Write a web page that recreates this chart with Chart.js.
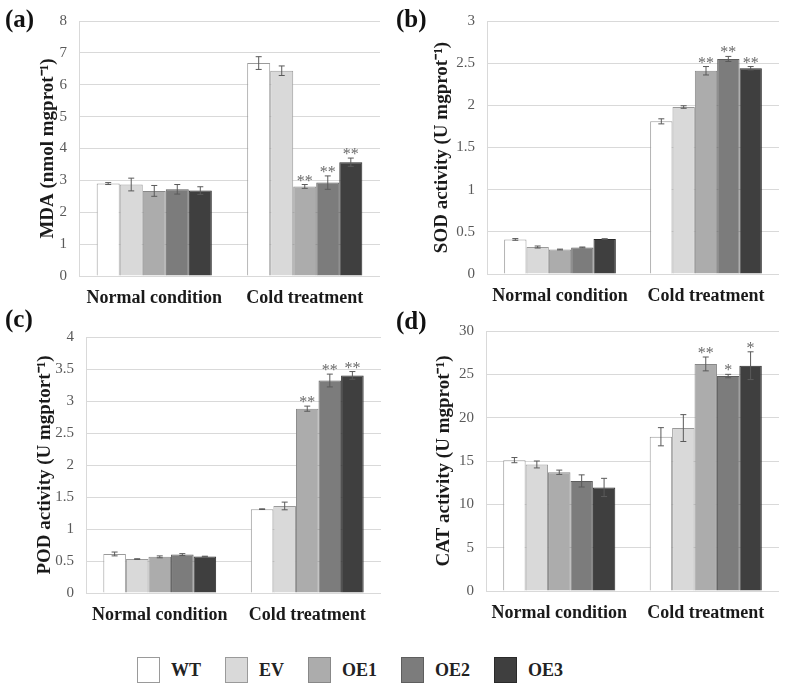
<!DOCTYPE html>
<html>
<head>
<meta charset="utf-8">
<script src="https://cdn.jsdelivr.net/npm/chart.js@4.4.1/dist/chart.umd.min.js"></script>
<style>
  body { margin: 0; background: #fff; }
  #page { position: relative; width: 787px; height: 690px; overflow: hidden; font-family: "Liberation Serif", "Times New Roman", serif; }
  canvas { position: absolute; }
  .tag { position: absolute; font-weight: bold; font-size: 25px; color: #111; line-height: 1; }
  #legend { position: absolute; left: 137px; top: 657px; display: flex; align-items: center; }
  .item { display: flex; align-items: center; margin-right: 24px; }
  .box { width: 21px; height: 24px; border: 1px solid #999; margin-right: 11px; }
  .item span { font-weight: bold; font-size: 18px; color: #222; }
</style>
</head>
<body>
<div id="page">
  <canvas id="chartA" style="left:0;top:0" width="390" height="310"></canvas>
  <canvas id="chartB" style="left:390px;top:0" width="397" height="310"></canvas>
  <canvas id="chartC" style="left:0;top:300px" width="390" height="335"></canvas>
  <canvas id="chartD" style="left:390px;top:300px" width="397" height="335"></canvas>
  <div class="tag" style="left:5px;top:6px">(a)</div>
  <div class="tag" style="left:396px;top:6px">(b)</div>
  <div class="tag" style="left:5px;top:306px">(c)</div>
  <div class="tag" style="left:396px;top:308px">(d)</div>
  <div id="legend"></div>
</div>
<script>
const categories = ['Normal condition', 'Cold treatment'];
const lines = ['WT', 'EV', 'OE1', 'OE2', 'OE3'];
const fills = ['#ffffff', '#d9d9d9', '#acacac', '#7c7c7c', '#3f3f3f'];
const borders = ['#9a9a9a', '#9a9a9a', '#888888', '#5e5e5e', '#2a2a2a'];

// MDA (a), one row per line: [normal, cold]
const mdaValues = [[2.9, 6.68], [2.87, 6.44], [2.67, 2.81], [2.72, 2.93], [2.68, 3.57]];
const mdaErrors = [[0.03, 0.2], [0.2, 0.15], [0.17, 0.06], [0.15, 0.21], [0.12, 0.13]];
const mdaMarks = [['', ''], ['', ''], ['', '**'], ['', '**'], ['', '**']];
const mdaTicks = [0, 8, 1];

// SOD (b)
const sodValues = [[0.41, 1.81], [0.32, 1.98], [0.29, 2.41], [0.315, 2.55], [0.415, 2.44]];
const sodErrors = [[0.01, 0.03], [0.012, 0.015], [0.005, 0.05], [0.005, 0.03], [0.003, 0.02]];
const sodMarks = [['', ''], ['', ''], ['', '**'], ['', '**'], ['', '**']];
const sodTicks = [0, 3, 0.5];

// POD (c)
const podValues = [[0.61, 1.31], [0.53, 1.36], [0.565, 2.88], [0.6, 3.32], [0.57, 3.4]];
const podErrors = [[0.03, 0.005], [0.005, 0.06], [0.015, 0.04], [0.015, 0.1], [0.005, 0.06]];
const podMarks = [['', ''], ['', ''], ['', '**'], ['', '**'], ['', '**']];
const podTicks = [0, 4, 0.5];

// CAT (d)
const catValues = [[15.1, 17.8], [14.6, 18.8], [13.7, 26.2], [12.7, 24.8], [11.95, 26.0]];
const catErrors = [[0.3, 1.05], [0.4, 1.55], [0.25, 0.8], [0.7, 0.2], [1.05, 1.6]];
const catMarks = [['', ''], ['', ''], ['', '**'], ['', '*'], ['', '*']];
const catTicks = [0, 30, 5];

Chart.defaults.font.family = '"Liberation Serif", "Times New Roman", serif';
Chart.defaults.animation = false;

const errorBars = {
    id: 'errorBars',
    afterDatasetsDraw(chart) {
        const ctx = chart.ctx;
        const y = chart.scales.y;
        chart.data.datasets.forEach((ds, i) => {
            chart.getDatasetMeta(i).data.forEach((bar, j) => {
                const v = ds.data[j], e = ds.errors[j];
                const top = y.getPixelForValue(v + e);
                const bot = y.getPixelForValue(v - e);
                ctx.save();
                ctx.strokeStyle = '#5a5a5a';
                ctx.lineWidth = 1;
                ctx.beginPath();
                ctx.moveTo(bar.x, top); ctx.lineTo(bar.x, bot);
                ctx.moveTo(bar.x - 3, top); ctx.lineTo(bar.x + 3, top);
                ctx.moveTo(bar.x - 3, bot); ctx.lineTo(bar.x + 3, bot);
                ctx.stroke();
                if (ds.marks[j]) {
                    ctx.fillStyle = '#6a6a6a';
                    ctx.font = '16px "Liberation Serif", serif';
                    ctx.textAlign = 'center';
                    ctx.textBaseline = 'alphabetic';
                    ctx.fillText(ds.marks[j], bar.x, top + 1);
                }
                ctx.restore();
            });
        });
    }
};

function criarPainel(id, title, values, errors, marks, ticks, box) {
    new Chart(document.getElementById(id), {
        type: 'bar',
        data: {
            labels: categories,
            datasets: lines.map((name, i) => ({
                label: name,
                data: values[i],
                errors: errors[i],
                marks: marks[i],
                backgroundColor: fills[i],
                borderColor: borders[i],
                borderWidth: 1,
                barPercentage: 1,
                categoryPercentage: 0.765
            }))
        },
        options: {
            responsive: false,
            layout: { padding: { top: box.top, right: box.right, left: 0, bottom: 0 } },
            plugins: { legend: { display: false }, tooltip: { enabled: false } },
            scales: {
                x: {
                    grid: { display: false },
                    border: { display: false },
                    ticks: { color: '#1a1a1a', font: { size: 18, weight: 'bold' }, padding: 4, maxRotation: 0, autoSkip: false },
                    afterFit: s => { s.height = box.xh; }
                },
                y: {
                    min: ticks[0],
                    max: ticks[1],
                    grid: { color: '#d9d9d9', drawTicks: false },
                    border: { color: '#d9d9d9' },
                    ticks: {
                        stepSize: ticks[2], color: '#595959', font: { size: 15 }, padding: 12,
                        callback: v => String(Math.round(v * 100) / 100)
                    },
                    title: { display: true, text: title, color: '#1a1a1a', font: { size: 19, weight: 'bold' }, padding: { top: box.tp, bottom: 0 } },
                    afterFit: s => { s.width = box.yw; }
                }
            }
        },
        plugins: [errorBars]
    });
}

criarPainel('chartA', 'MDA (nmol mgprot\u207B\u00B9)', mdaValues, mdaErrors, mdaMarks, mdaTicks,
    { top: 14, right: 10, xh: 34, yw: 79, tp: 37 });
criarPainel('chartB', 'SOD activity (U mgprot\u207B\u00B9)', sodValues, sodErrors, sodMarks, sodTicks,
    { top: 12, right: 8, xh: 36, yw: 97, tp: 41 });
criarPainel('chartC', 'POD activity (U mgptort\u207B\u00B9)', podValues, podErrors, podMarks, podTicks,
    { top: 37, right: 9, xh: 42, yw: 86, tp: 34 });
criarPainel('chartD', 'CAT activity (U mgprot\u207B\u00B9)', catValues, catErrors, catMarks, catTicks,
    { top: 31, right: 8, xh: 44, yw: 96, tp: 43 });

const legend = document.getElementById('legend');
lines.forEach((name, i) => {
    const item = document.createElement('div');
    item.className = 'item';
    item.innerHTML = `<div class="box" style="background:${fills[i]};border-color:${borders[i]}"></div><span>${name}</span>`;
    legend.appendChild(item);
});
</script>
</body>
</html>
